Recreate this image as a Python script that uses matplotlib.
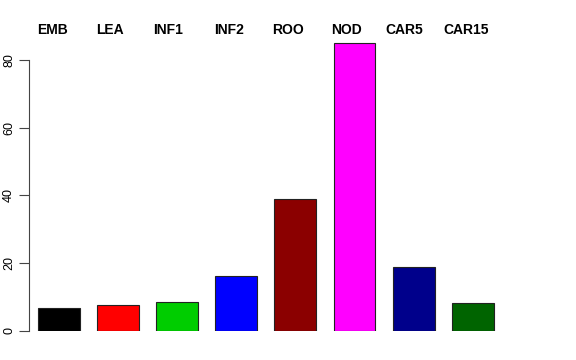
import matplotlib
matplotlib.use("Agg")
import matplotlib.pyplot as plt

# values
groups = ["EMB", "LEA", "INF1", "INF2", "ROO", "NOD", "CAR5", "CAR15"]
values = [6.8, 7.7, 8.6, 16.2, 38.9, 85.0, 18.9, 8.3]
colors = ["black", "red", "#00CD00", "blue", "#8B0000", "magenta", "#00008B", "#006400"]

# centre of each header label, in pixels
label_px = [52, 110, 168, 229, 288, 347, 404, 466]

plt.rcParams["font.family"] = ["Liberation Sans", "DejaVu Sans"]

W, H = 576, 360
fig = plt.figure(figsize=(W / 100, H / 100), dpi=100)

# axes placed so that y=0 sits at pixel 331 and y=88 near the top
unit = 59.1
ax = fig.add_axes([29 / W, (H - 331) / H, (512 - 29) / W, (331 - 32.7) / H])
x = list(range(len(groups)))
ax.bar(x, values, width=0.71, color=colors, edgecolor="#222222", linewidth=0.8)

ax.set_xlim((29 - 59) / unit, (512 - 59) / unit)
ax.set_ylim(0, 88)

for s in ["top", "right", "bottom"]:
    ax.spines[s].set_visible(False)
ax.spines["left"].set_bounds(0, 80)
ax.spines["left"].set_color("#444444")
ax.set_xticks([])
ax.set_yticks([0, 20, 40, 60, 80])
ax.tick_params(axis="y", length=7, color="#444444", labelsize=9, pad=3)
for lab in ax.get_yticklabels():
    lab.set_rotation(90)
    lab.set_va("center")

for name, px in zip(groups, label_px):
    fig.text(px / W, 1 - 30 / H, name, ha="center", va="center",
             fontsize=10, fontweight="bold")

fig.savefig("out.png", dpi=100)
